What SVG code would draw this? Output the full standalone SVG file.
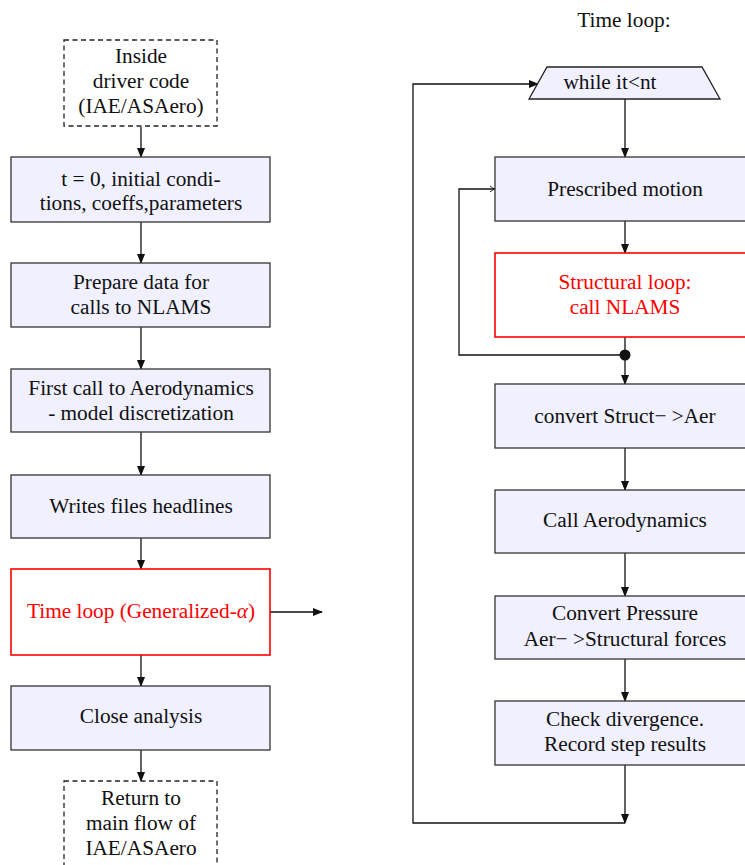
<svg xmlns="http://www.w3.org/2000/svg" width="745" height="865" viewBox="0 0 745 865">
<defs>
<style>
text{font-family:"Liberation Serif","Times New Roman",serif;font-size:21.3px;fill:#111;text-anchor:middle}
.red{fill:#ff0000}
.box{fill:#f0f0ff;stroke:#333;stroke-width:1.3}
.rbox{fill:#fff;stroke:#ff0000;stroke-width:1.6}
.dash{fill:#fff;stroke:#222;stroke-width:1.3;stroke-dasharray:5 3.5}
.ln{fill:none;stroke:#111;stroke-width:1.3}
</style>
<marker id="ah" markerWidth="10" markerHeight="8" refX="9" refY="4" orient="auto" markerUnits="userSpaceOnUse"><path d="M0,0 L10,4 L0,8 Z" fill="#111"/></marker>
<marker id="oa" markerWidth="8" markerHeight="8" refX="6" refY="4" orient="auto" markerUnits="userSpaceOnUse"><path d="M1,1 Q4,3.5 6,4 Q4,4.5 1,7" fill="none" stroke="#111" stroke-width="0.9"/></marker>
</defs>
<rect width="745" height="865" fill="#fff"/>

<g id="connectors">
<line class="ln" x1="141" y1="127" x2="141" y2="157" marker-end="url(#ah)"/>
<line class="ln" x1="141" y1="222" x2="141" y2="263" marker-end="url(#ah)"/>
<line class="ln" x1="141" y1="327" x2="141" y2="369" marker-end="url(#ah)"/>
<line class="ln" x1="141" y1="432" x2="141" y2="475" marker-end="url(#ah)"/>
<line class="ln" x1="141" y1="538" x2="141" y2="569" marker-end="url(#ah)"/>
<line class="ln" x1="141" y1="655" x2="141" y2="686" marker-end="url(#ah)"/>
<line class="ln" x1="141" y1="750" x2="141" y2="781" marker-end="url(#ah)"/>
<line class="ln" x1="270" y1="612" x2="322" y2="612" marker-end="url(#ah)"/>

<line class="ln" x1="625" y1="99" x2="625" y2="157" marker-end="url(#ah)"/>
<line class="ln" x1="625" y1="221" x2="625" y2="253" marker-end="url(#ah)"/>
<line class="ln" x1="625" y1="337" x2="625" y2="384" marker-end="url(#ah)"/>
<circle cx="625" cy="355" r="5.5" fill="#111"/>
<polyline class="ln" points="625,355 459,355 459,189 495,189" marker-end="url(#oa)"/>
<line class="ln" x1="625" y1="448" x2="625" y2="490" marker-end="url(#ah)"/>
<line class="ln" x1="625" y1="553" x2="625" y2="596" marker-end="url(#ah)"/>
<line class="ln" x1="625" y1="659" x2="625" y2="701" marker-end="url(#ah)"/>
<line class="ln" x1="625" y1="765" x2="625" y2="823" marker-end="url(#ah)"/>
<polyline class="ln" points="625,823 413,823 413,84 538,84" marker-end="url(#ah)"/>
</g>

<g id="start">
<rect class="dash" x="64" y="40" width="153" height="86"/>
<text x="141" y="63">Inside</text>
<text x="141" y="88">driver code</text>
<text x="141" y="113">(IAE/ASAero)</text>
</g>
<g id="init">
<rect class="box" x="11" y="157" width="259" height="65"/>
<text x="141" y="186">t = 0, initial condi-</text>
<text x="141" y="210">tions, coeffs,parameters</text>
</g>
<g id="prepare">
<rect class="box" x="11" y="263" width="259" height="64"/>
<text x="141" y="289">Prepare data for</text>
<text x="141" y="314">calls to NLAMS</text>
</g>
<g id="firstcall">
<rect class="box" x="11" y="369" width="259" height="63"/>
<text x="141" y="395">First call to Aerodynamics</text>
<text x="141" y="420">- model discretization</text>
</g>
<g id="writes">
<rect class="box" x="11" y="475" width="259" height="63"/>
<text x="141" y="513">Writes files headlines</text>
</g>
<g id="timeloop">
<rect class="rbox" x="11" y="569" width="259" height="86"/>
<text class="red" x="141" y="618">Time loop (Generalized-<tspan font-style="italic">α</tspan>)</text>
</g>
<g id="close">
<rect class="box" x="11" y="686" width="259" height="64"/>
<text x="141" y="723">Close analysis</text>
</g>
<g id="return">
<rect class="dash" x="64" y="781" width="153" height="90"/>
<text x="141" y="805">Return to</text>
<text x="141" y="830">main flow of</text>
<text x="141" y="855">IAE/ASAero</text>
</g>

<g id="title">
<text x="624" y="27">Time loop:</text>
</g>
<g id="while">
<polygon points="547,67 702,67 720,99 529,99" fill="#f0f0ff" stroke="#222" stroke-width="1.3"/>
<text x="610" y="89">while it&lt;nt</text>
</g>
<g id="motion">
<rect class="box" x="495" y="157" width="259" height="64"/>
<text x="625" y="196">Prescribed motion</text>
</g>
<g id="structural">
<rect class="rbox" x="495" y="253" width="259" height="84"/>
<text class="red" x="625" y="289">Structural loop:</text>
<text class="red" x="625" y="314">call NLAMS</text>
</g>
<g id="convert">
<rect class="box" x="495" y="384" width="259" height="64"/>
<text x="625" y="423">convert Struct− &gt;Aer</text>
</g>
<g id="aero">
<rect class="box" x="495" y="490" width="259" height="63"/>
<text x="625" y="527">Call Aerodynamics</text>
</g>
<g id="pressure">
<rect class="box" x="495" y="596" width="259" height="63"/>
<text x="625" y="620">Convert Pressure</text>
<text x="625" y="646">Aer− &gt;Structural forces</text>
</g>
<g id="check">
<rect class="box" x="495" y="701" width="259" height="64"/>
<text x="625" y="726">Check divergence.</text>
<text x="625" y="751">Record step results</text>
</g>
</svg>
